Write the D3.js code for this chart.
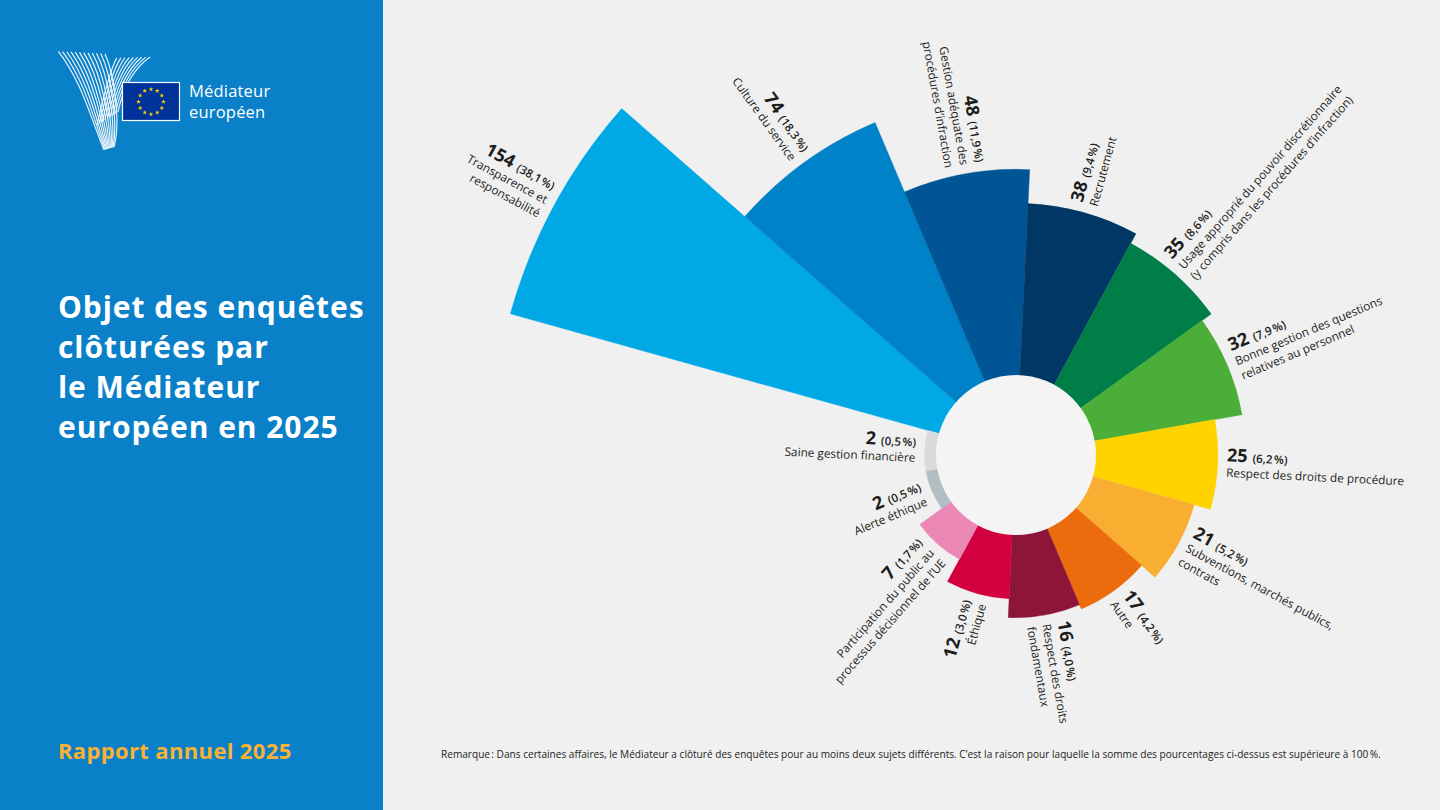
<!DOCTYPE html>
<html lang="fr">
<head>
<meta charset="utf-8">
<title>Objet des enquêtes clôturées par le Médiateur européen en 2025</title>
<script src="https://cdn.jsdelivr.net/npm/d3@7"></script>
<style>
  html, body { margin: 0; padding: 0; background: #f0f0f0; }
  svg { display: block; font-family: "Open Sans", "Noto Sans", sans-serif; }
</style>
</head>
<body>
<svg id="chart" width="1440" height="810"></svg>
<script>
// subjects, clockwise starting with "Transparence"
const categories = [
  "Transparence et\nresponsabilité",
  "Culture du service",
  "Gestion adéquate des\nprocédures d’infraction",
  "Recrutement",
  "Usage approprié du pouvoir discrétionnaire\n(y compris dans les procédures d’infraction)",
  "Bonne gestion des questions\nrelatives au personnel",
  "Respect des droits de procédure",
  "Subventions, marchés publics,\ncontrats",
  "Autre",
  "Respect des droits\nfondamentaux",
  "Éthique",
  "Participation du public au\nprocessus décisionnel de l’UE",
  "Alerte éthique",
  "Saine gestion financière"
];
const values = [154, 74, 48, 38, 35, 32, 25, 21, 17, 16, 12, 7, 2, 2];
const percents = ["38,1", "18,3", "11,9", "9,4", "8,6", "7,9", "6,2", "5,2", "4,2", "4,0", "3,0", "1,7", "0,5", "0,5"];
const colors = ["#00a9e6", "#0082c9", "#005596", "#003764", "#007e47", "#4aae38", "#ffd300",
                "#f9ae31", "#ec6c0d", "#8c1538", "#d2003f", "#ea87b5", "#b3bdc4", "#dadada"];

const titleLines = ["Objet des enquêtes", "clôturées par", "le Médiateur", "européen en 2025"];
const note = "Remarque\u202f: Dans certaines affaires, le Médiateur a clôturé des enquêtes pour au moins deux sujets différents. C’est la raison pour laquelle la somme des pourcentages ci-dessus est supérieure à 100\u202f%.";

const svg = d3.select("#chart");
const W = 1440, H = 810;

// backgrounds
svg.append("rect").attr("width", W).attr("height", H).attr("fill", "#f0f0f0");
svg.append("rect").attr("width", 383).attr("height", H).attr("fill", "#0a80c8");

// ---- logo: hatched "Y" + EU flag ----
const logo = svg.append("g");
const lerp = (a, b, t) => a + (b - a) * t;
// left arm, runs down into the stem
for (let i = 0; i <= 11; i++) {
  const t = i / 11;
  const p = d3.path();
  p.moveTo(lerp(58.3, 105, t), lerp(51.3, 53.7, t));
  p.bezierCurveTo(lerp(82, 114, t), lerp(82, 74, t), lerp(90, 121, t), lerp(116, 122, t),
                  lerp(104, 114, t), lerp(150, 147, t));
  logo.append("path").attr("d", p.toString())
    .attr("fill", "none").attr("stroke", "#fff").attr("stroke-width", 1.2).attr("opacity", 0.9);
}
// right arm
for (let j = 0; j <= 8; j++) {
  const s = j / 8;
  const p = d3.path();
  p.moveTo(lerp(116.7, 150, s), lerp(58, 57, s));
  p.quadraticCurveTo(lerp(109, 126, s), lerp(72, 74, s), lerp(97, 118, s), lerp(125, 112, s));
  logo.append("path").attr("d", p.toString())
    .attr("fill", "none").attr("stroke", "#fff").attr("stroke-width", 1.2).attr("opacity", 0.9);
}
logo.append("rect").attr("x", 122.5).attr("y", 82.5).attr("width", 57).attr("height", 38)
  .attr("fill", "#003399").attr("stroke", "#fff").attr("stroke-width", 1.2);
const star = d3.symbol(d3.symbolStar).size(7);
d3.range(12).forEach(k => {
  const a = k * Math.PI / 6;
  logo.append("path").attr("d", star())
    .attr("transform", `translate(${151 + 12.5 * Math.sin(a)},${101.7 - 12.5 * Math.cos(a)})`)
    .attr("fill", "#ffcc00");
});
logo.append("text").attr("x", 189).attr("y", 97).attr("fill", "#fff")
  .attr("font-size", 16.5).attr("letter-spacing", 0.2).text("Médiateur");
logo.append("text").attr("x", 189).attr("y", 118).attr("fill", "#fff")
  .attr("font-size", 16.5).attr("letter-spacing", 0.2).text("européen");

// ---- title ----
svg.append("text").attr("fill", "#fff").attr("font-size", 30).attr("font-weight", 700)
  .attr("letter-spacing", 0.95)
  .selectAll("tspan").data(titleLines).join("tspan")
  .attr("x", 58).attr("y", (d, i) => 318 + i * 40).text(d => d);

svg.append("text").attr("x", 58).attr("y", 759).attr("fill", "#f9b233")
  .attr("font-size", 22).attr("font-weight", 700).attr("letter-spacing", 0.35)
  .text("Rapport annuel 2025");

svg.append("text").attr("x", 441).attr("y", 758).attr("fill", "#1d1d1b")
  .attr("font-size", 10.1).text(note);

// ---- polar bars ----
const cx = 1016, cy = 455, inner = 80;
const a0 = -74.4 * Math.PI / 180;
const data = values.map((v, i) => ({ i, v, name: categories[i], pct: percents[i], color: colors[i] }));

const angle = d3.scaleBand().domain(d3.range(values.length)).range([a0, a0 + 2 * Math.PI]);
const radius = d3.scaleSymlog().constant(60).domain([0, d3.max(values)]).range([inner, 525]);

const arc = d3.arc()
  .innerRadius(inner - 2)
  .outerRadius(d => radius(d.v))
  .startAngle(d => angle(d.i))
  .endAngle(d => angle(d.i) + angle.bandwidth());

const chart = svg.append("g").attr("transform", `translate(${cx},${cy})`);
chart.selectAll("path.bar").data(data).join("path")
  .attr("class", "bar")
  .attr("d", arc)
  .attr("fill", d => d.color)
  .attr("stroke", d => d.color)
  .attr("stroke-width", 0.4);

chart.append("circle").attr("r", inner).attr("fill", "#f4f4f4");

// ---- labels, set along each wedge's middle ray ----
const lh = 15.5;
data.forEach(d => {
  const mid = angle(d.i) + angle.bandwidth() / 2;
  const deg = (mid * 180 / Math.PI + 360) % 360;
  const r = radius(d.v) + 9;
  const x = r * Math.sin(mid), y = -r * Math.cos(mid);
  const right = deg < 180;
  const rot = right ? deg - 90 : deg - 270;
  const lines = d.name.split("\n");
  const n = lines.length + 1;
  const by = k => (k - (n - 1) / 2) * lh + 4;

  const t = chart.append("text")
    .attr("transform", `translate(${x},${y}) rotate(${rot})`)
    .attr("text-anchor", right ? "start" : "end")
    .attr("fill", "#1d1d1b");
  const first = t.append("tspan").attr("x", 0).attr("y", by(0));
  first.append("tspan").attr("font-size", 18).attr("font-weight", 700).text(d.v);
  first.append("tspan").attr("font-size", 11.5).attr("font-weight", 600).attr("dx", 5)
    .text(`(${d.pct}\u202f%)`);
  lines.forEach((line, k) => {
    t.append("tspan").attr("x", 0).attr("y", by(k + 1)).attr("font-size", 11.8).text(line);
  });
});
</script>
</body>
</html>
